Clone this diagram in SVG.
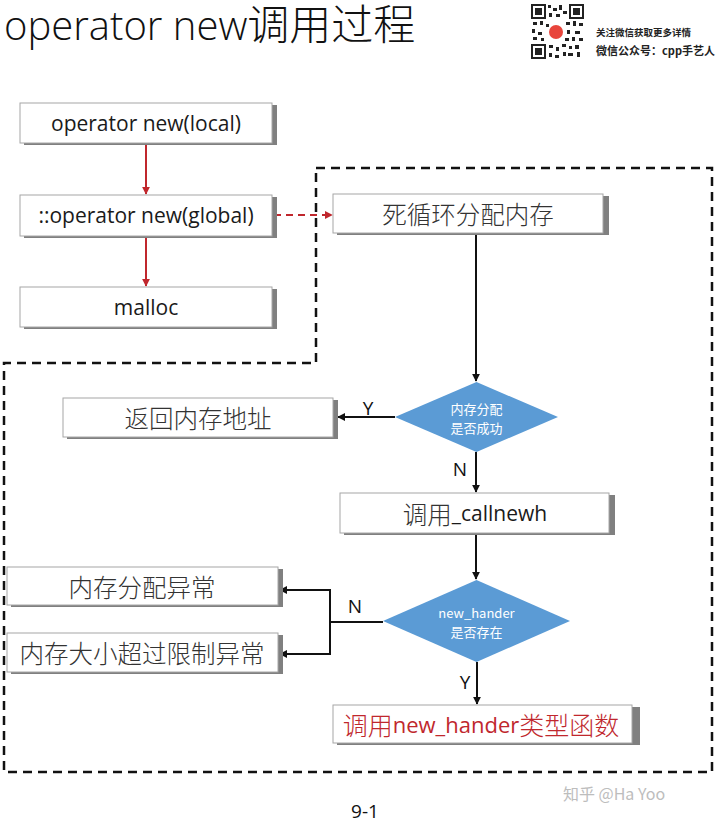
<svg xmlns="http://www.w3.org/2000/svg" width="720" height="824" viewBox="0 0 720 824">
<style>
.bg{fill:#fff}
.shadow{fill:#808080}
.box{fill:#fff;stroke:#a6a6a6;stroke-width:1}
.en{font-family:"Open Sans","Noto Sans","Noto Sans CJK SC",sans-serif;font-size:21px;fill:#1a1a1a;text-anchor:middle;dominant-baseline:central}
.zh{font-family:"Noto Sans CJK SC","Noto Sans",sans-serif;font-size:24.5px;font-weight:300;fill:#333;text-anchor:middle;dominant-baseline:central}
.dia{fill:#5b9bd5}
.dt{font-family:"Noto Sans CJK SC","Open Sans",sans-serif;font-size:13px;fill:#fff;text-anchor:middle;dominant-baseline:central}
.lbl{font-family:"Open Sans","Noto Sans",sans-serif;font-size:19px;fill:#111;text-anchor:middle;dominant-baseline:central}
.blk{stroke:#111;stroke-width:2;fill:none}
.red{stroke:#c0272d;stroke-width:2;fill:none}
</style>
<defs>
<marker id="ab" viewBox="0 0 10 10" refX="9" refY="5" markerWidth="4" markerHeight="4" orient="auto" markerUnits="strokeWidth"><path d="M0,0 L10,5 L0,10 z" fill="#111"/></marker>
<marker id="ar" viewBox="0 0 10 10" refX="9" refY="5" markerWidth="4" markerHeight="4" orient="auto" markerUnits="strokeWidth"><path d="M0,0 L10,5 L0,10 z" fill="#c0272d"/></marker>
</defs>
<rect class="bg" width="720" height="824"/>

<g id="title">
<text x="4" y="40" font-family="'Open Sans','Noto Sans','Noto Sans CJK SC',sans-serif" font-size="40" font-weight="300" fill="#111">operator new<tspan font-family="'Noto Sans CJK SC',sans-serif" font-size="42" font-weight="300">调用过程</tspan></text>
</g>

<g id="qr">
<rect x="531" y="4" width="53" height="55" fill="#fff"/>
<g fill="#222">
<rect x="531" y="4" width="15" height="15"/><rect x="569" y="4" width="15" height="15"/><rect x="531" y="44" width="15" height="15"/>
<rect x="548" y="5" width="3" height="3"/><rect x="553" y="8" width="4" height="3"/><rect x="559" y="5" width="3" height="5"/><rect x="563" y="11" width="4" height="3"/>
<rect x="549" y="13" width="3" height="4"/><rect x="556" y="14" width="4" height="3"/><rect x="533" y="22" width="4" height="3"/><rect x="540" y="21" width="3" height="4"/>
<rect x="546" y="24" width="3" height="3"/><rect x="566" y="22" width="4" height="3"/><rect x="573" y="21" width="3" height="5"/><rect x="579" y="23" width="4" height="3"/>
<rect x="532" y="29" width="3" height="4"/><rect x="538" y="32" width="4" height="3"/><rect x="567" y="30" width="3" height="4"/><rect x="575" y="31" width="5" height="3"/>
<rect x="533" y="37" width="4" height="3"/><rect x="541" y="38" width="3" height="3"/><rect x="565" y="38" width="4" height="3"/><rect x="572" y="37" width="3" height="4"/><rect x="579" y="38" width="4" height="3"/>
<rect x="549" y="45" width="4" height="3"/><rect x="556" y="47" width="3" height="4"/><rect x="562" y="44" width="4" height="3"/><rect x="569" y="46" width="3" height="3"/><rect x="575" y="45" width="4" height="4"/>
<rect x="549" y="53" width="3" height="4"/><rect x="555" y="55" width="4" height="3"/><rect x="563" y="52" width="3" height="4"/><rect x="568" y="53" width="5" height="3"/><rect x="577" y="52" width="3" height="5"/>
</g>
<g fill="#fff"><rect x="533" y="6" width="11" height="11"/><rect x="571" y="6" width="11" height="11"/><rect x="533" y="46" width="11" height="11"/></g>
<g fill="#222"><rect x="535" y="8" width="7" height="7"/><rect x="573" y="8" width="7" height="7"/><rect x="535" y="48" width="7" height="7"/></g>
<circle cx="556" cy="32" r="7" fill="#e8453c"/>
</g>
<g id="promo" font-family="'Noto Sans CJK SC',sans-serif" font-weight="bold" fill="#222">
<text x="596" y="36" font-size="9.5">关注微信获取更多详情</text>
<text x="596" y="55" font-size="11">微信公众号：cpp手艺人</text>
</g>

<g id="boundary">
<path d="M316,168 H712 V772 H4 V363 H316 Z" fill="none" stroke="#111" stroke-width="2.5" stroke-dasharray="9,6"/>
</g>

<g id="connectors">
<line class="red" x1="146" y1="143" x2="146" y2="194" marker-end="url(#ar)"/>
<line class="red" x1="146" y1="236" x2="146" y2="286" marker-end="url(#ar)"/>
<line class="red" x1="274" y1="215" x2="332" y2="215" stroke-dasharray="7,5" marker-end="url(#ar)"/>
<line class="blk" x1="476" y1="233" x2="476" y2="381" marker-end="url(#ab)"/>
<line class="blk" x1="395" y1="417" x2="338" y2="417" marker-end="url(#ab)"/>
<line class="blk" x1="476" y1="452" x2="476" y2="492" marker-end="url(#ab)"/>
<line class="blk" x1="476" y1="533" x2="476" y2="579" marker-end="url(#ab)"/>
<polyline class="blk" points="383,622 330,622"/>
<polyline class="blk" points="330,590 330,654"/>
<line class="blk" x1="331" y1="590" x2="280" y2="590" marker-end="url(#ab)"/>
<line class="blk" x1="331" y1="654" x2="280" y2="654" marker-end="url(#ab)"/>
<line class="blk" x1="477" y1="662" x2="477" y2="704" marker-end="url(#ab)"/>
<text class="lbl" x="368" y="408">Y</text>
<text class="lbl" x="460" y="469">N</text>
<text class="lbl" x="355" y="606">N</text>
<text class="lbl" x="465" y="682">Y</text>
</g>

<g id="n_local">
<rect class="shadow" x="24" y="105" width="253" height="40"/>
<rect class="box" x="20" y="103" width="252" height="40"/>
<text class="en" x="146" y="123">operator new(local)</text>
</g>
<g id="n_global">
<rect class="shadow" x="24" y="197" width="253" height="41"/>
<rect class="box" x="20" y="195" width="252" height="41"/>
<text class="en" x="146" y="215">::operator new(global)</text>
</g>
<g id="n_malloc">
<rect class="shadow" x="24" y="289" width="253" height="40"/>
<rect class="box" x="20" y="287" width="252" height="40"/>
<text class="en" x="146" y="307">malloc</text>
</g>
<g id="n_loop">
<rect class="shadow" x="337" y="196" width="272" height="39"/>
<rect class="box" x="333" y="194" width="270" height="39"/>
<text class="zh" x="468" y="213">死循环分配内存</text>
</g>
<g id="n_success">
<polygon class="dia" points="476.5,382 558,417 476.5,452 395,417"/>
<text class="dt" x="476.5" y="408">内存分配</text>
<text class="dt" x="476.5" y="427">是否成功</text>
</g>
<g id="n_return">
<rect class="shadow" x="67" y="400" width="271" height="39"/>
<rect class="box" x="63" y="398" width="270" height="39"/>
<text class="zh" x="198" y="417">返回内存地址</text>
</g>
<g id="n_callnewh">
<rect class="shadow" x="344" y="495" width="271" height="40"/>
<rect class="box" x="340" y="493" width="269" height="40"/>
<text class="zh" x="475" y="513"><tspan>调用</tspan><tspan font-family="'Open Sans','Noto Sans',sans-serif" font-size="21" font-weight="normal" fill="#1a1a1a">_callnewh</tspan></text>
</g>
<g id="n_exists">
<polygon class="dia" points="476.5,580 570,621 476.5,662 383,621"/>
<text class="dt" x="476.5" y="612" font-family="'Open Sans',sans-serif">new_hander</text>
<text class="dt" x="476.5" y="631">是否存在</text>
</g>
<g id="n_err1">
<rect class="shadow" x="11" y="569" width="272" height="38"/>
<rect class="box" x="7" y="567" width="271" height="38"/>
<text class="zh" x="142" y="586">内存分配异常</text>
</g>
<g id="n_err2">
<rect class="shadow" x="11" y="635" width="272" height="39"/>
<rect class="box" x="7" y="633" width="271" height="39"/>
<text class="zh" x="142" y="652">内存大小超过限制异常</text>
</g>
<g id="n_handler">
<rect class="shadow" x="337" y="707" width="303" height="38"/>
<rect class="box" x="333" y="705" width="299" height="38"/>
<text class="zh" x="481" y="724" style="fill:#c0272d;font-size:25px">调用<tspan font-family="'Open Sans','Noto Sans',sans-serif" font-size="22" font-weight="normal">new_hander</tspan>类型函数</text>
</g>

<g id="footer">
<text x="365" y="811" font-family="'Open Sans','Noto Sans',sans-serif" font-size="19" fill="#111" text-anchor="middle" dominant-baseline="central">9-1</text>
<text x="563" y="793" font-family="'Noto Sans CJK SC','Noto Sans',sans-serif" font-size="16" fill="#bdbdbd" dominant-baseline="central">知乎 @Ha Yoo</text>
</g>
</svg>
